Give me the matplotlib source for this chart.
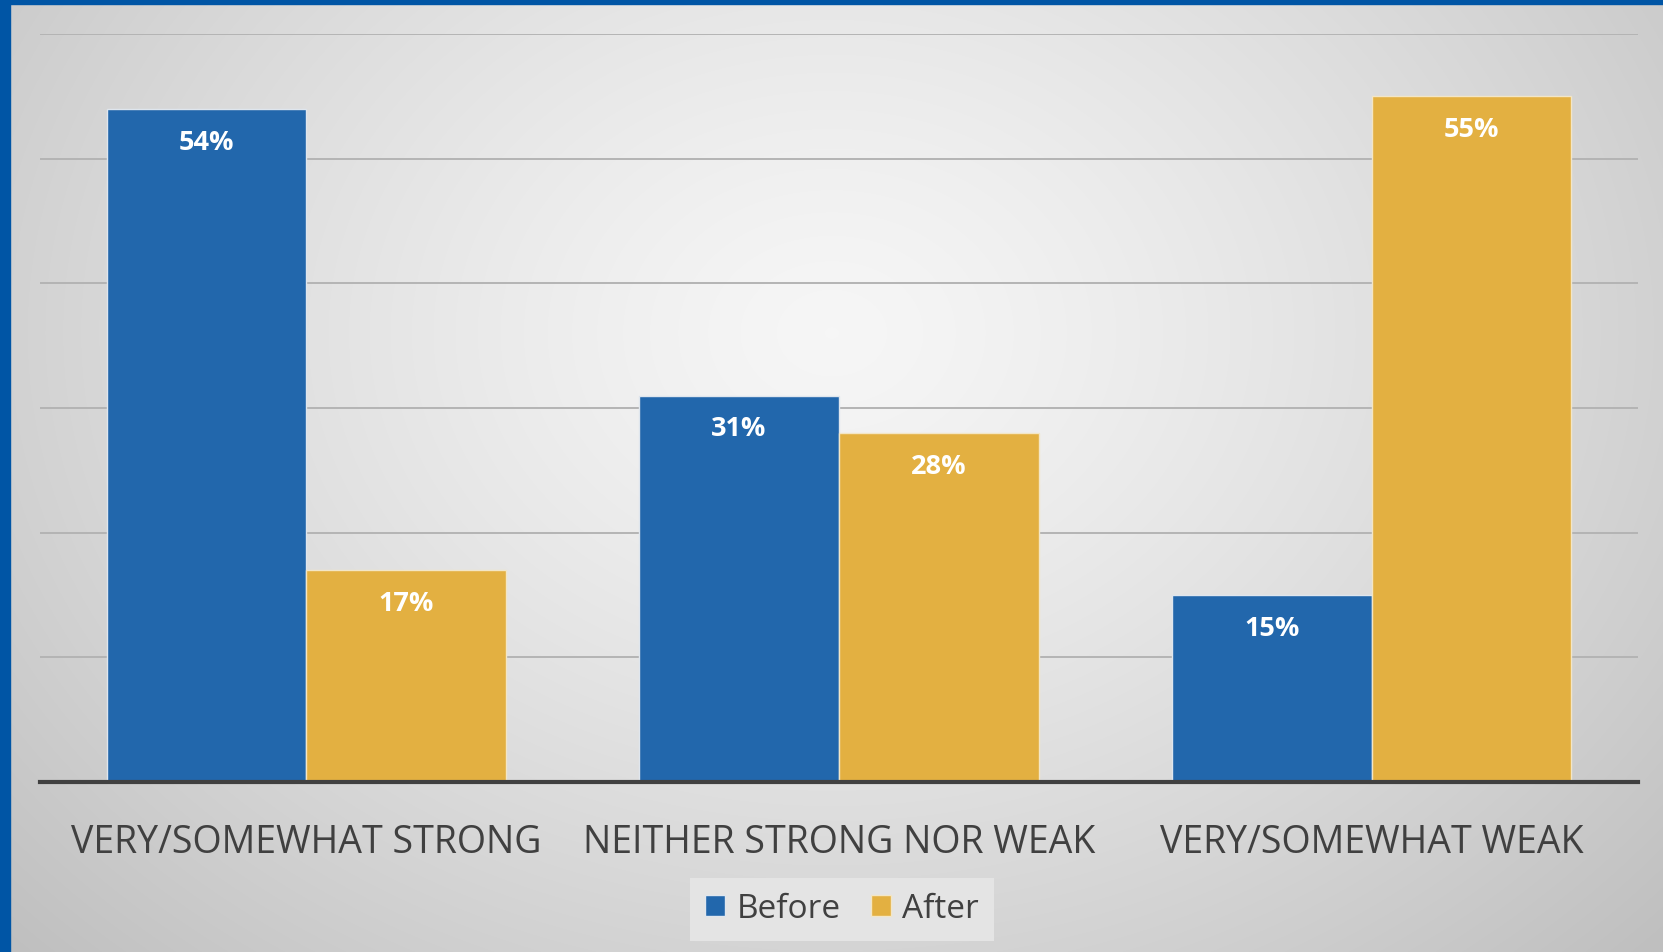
import numpy as np
import matplotlib
matplotlib.use("Agg")
import matplotlib.pyplot as plt
from matplotlib.patches import Rectangle

categories = ["VERY/SOMEWHAT STRONG", "NEITHER STRONG NOR WEAK", "VERY/SOMEWHAT WEAK"]
before = [54, 31, 15]
after = [17, 28, 55]
series_names = ["Before", "After"]

plt.rcParams['font.family'] = ['Open Sans', 'DejaVu Sans']

W, H = 1663, 953
fig = plt.figure(figsize=(W / 100, H / 100), dpi=100)

# background radial gradient
bg = fig.add_axes([0, 0, 1, 1], zorder=0)
yy, xx = np.mgrid[0:H, 0:W]
cx, cy = W * 0.5, H * 0.35
r = np.sqrt(((xx - cx) / (W * 0.62)) ** 2 + ((yy - cy) / (H * 0.85)) ** 2)
v = np.clip(0.965 - 0.19 * r ** 1.3, 0.75, 1)
bg.imshow(np.dstack([v, v, v]), extent=[0, W, H, 0], aspect='auto')
bg.set_xlim(0, W); bg.set_ylim(H, 0)
bg.axis('off')
border = "#0055A5"
bg.add_patch(Rectangle((0, 0), 10, H, color=border))
bg.add_patch(Rectangle((0, 0), W, 5, color=border))

ax = fig.add_axes([40 / W, (H - 783) / H, 1598 / W, (783 - 35) / H], zorder=1)
ax.patch.set_alpha(0)
x = np.arange(len(categories))
bw = 0.375
c_before = "#2267AC"
c_after = "#E3B041"
b1 = ax.bar(x - bw / 2, before, bw, color=c_before, edgecolor="#dfe6ee", linewidth=1.0, zorder=3, label=series_names[0])
b2 = ax.bar(x + bw / 2, after, bw, color=c_after, edgecolor="#f3e6c6", linewidth=1.0, zorder=3, label=series_names[1])
for bars in (b1, b2):
    for rect in bars:
        h = rect.get_height()
        ax.text(rect.get_x() + rect.get_width() / 2, h - 1.6, f"{h:.0f}%",
                ha='center', va='top', color='white', fontsize=19.5, fontweight='bold', zorder=4)

ax.set_xlim(-0.5, 2.5)
ax.set_ylim(0, 60)
ax.set_yticks(np.arange(0, 61, 10))
ax.yaxis.grid(True, color="#b4b4b4", linewidth=1.4, zorder=1)
ax.tick_params(axis='y', left=False, labelleft=False)
ax.tick_params(axis='x', bottom=False, labelsize=27, labelcolor="#404040", pad=26)
ax.set_xticks(x)
ax.set_xticklabels(categories)
for s in ['top', 'right', 'left']:
    ax.spines[s].set_visible(False)
ax.spines['bottom'].set_color("#404040")
ax.spines['bottom'].set_linewidth(3)
ax.spines['bottom'].set_zorder(5)

leg = fig.legend(handles=[b1, b2], labels=series_names, loc='center', bbox_to_anchor=(842 / W, 1 - 910 / H),
                 ncol=2, fontsize=24, frameon=True, fancybox=False, handlelength=0.6, handleheight=0.6,
                 handletextpad=0.35, columnspacing=0.9, borderpad=0.45)
leg.get_frame().set_facecolor("#e4e4e4")
leg.get_frame().set_edgecolor("none")
leg.get_frame().set_alpha(1)
for t in leg.get_texts():
    t.set_color("#404040")

fig.savefig("out.png", dpi=100)
